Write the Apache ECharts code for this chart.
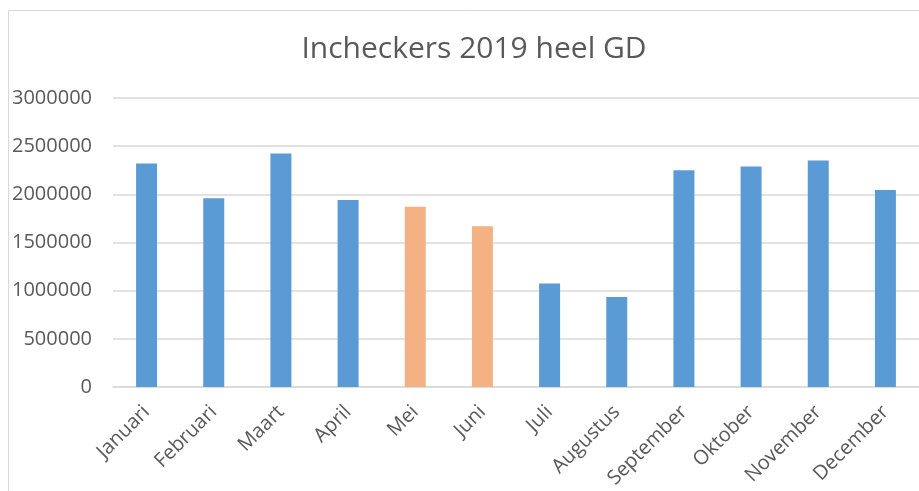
<!DOCTYPE html>
<html>
<head>
<meta charset="utf-8">
<script src="https://cdn.jsdelivr.net/npm/echarts@6/dist/echarts.min.js"></script>
<style>
  html, body { margin: 0; padding: 0; background: #fff; }
  #main { width: 919px; height: 491px; }
</style>
</head>
<body>
<div id="main"></div>
<script>
const maanden = ['Januari', 'Februari', 'Maart', 'April', 'Mei', 'Juni', 'Juli', 'Augustus', 'September', 'Oktober', 'November', 'December']
const incheckers = [2320000, 1960000, 2425000, 1940000, 1870000, 1670000, 1075000, 935000, 2250000, 2290000, 2350000, 2045000]
const oranjeMaanden = ['Mei', 'Juni']
const yTicks = [0, 500000, 1000000, 1500000, 2000000, 2500000, 3000000]

const blauw = '#5b9bd5'
const oranje = '#f4b183'
const tekst = '#595959'
const lijn = '#d9d9d9'
const font = '"Open Sans", "Noto Sans", sans-serif'

const myChart = echarts.init(document.getElementById('main'))

const option = {
  animation: false,
  backgroundColor: '#fff',
  title: {
    text: 'Incheckers 2019 heel GD',
    left: 469,
    top: 29,
    textAlign: 'center',
    textStyle: {
      color: tekst,
      fontSize: 30,
      fontWeight: 'normal',
      fontFamily: font
    }
  },
  graphic: [{
    type: 'rect',
    shape: { x: 8.5, y: 10.5, width: 1000, height: 1000 },
    style: { fill: 'none', stroke: lijn, lineWidth: 1 },
    silent: true
  }],
  grid: {
    left: 113,
    top: 98,
    width: 812,
    height: 290
  },
  xAxis: {
    type: 'category',
    data: maanden,
    axisLine: { lineStyle: { color: lijn, width: 1.5 } },
    axisTick: { show: false },
    axisLabel: {
      rotate: 45,
      margin: 22,
      interval: 0,
      color: tekst,
      fontSize: 20,
      fontFamily: font
    }
  },
  yAxis: {
    type: 'value',
    min: yTicks[0],
    max: yTicks[yTicks.length - 1],
    interval: yTicks[1] - yTicks[0],
    axisLine: { show: false },
    axisTick: { show: false },
    axisLabel: {
      margin: 21,
      color: tekst,
      fontSize: 20,
      fontFamily: font,
      formatter: v => String(v)
    },
    splitLine: { lineStyle: { color: lijn, width: 1.5 } }
  },
  series: [{
    type: 'bar',
    barWidth: 21,
    data: incheckers.map((v, i) => ({
      value: v,
      itemStyle: { color: oranjeMaanden.includes(maanden[i]) ? oranje : blauw }
    }))
  }]
}

myChart.setOption(option)
</script>
</body>
</html>
